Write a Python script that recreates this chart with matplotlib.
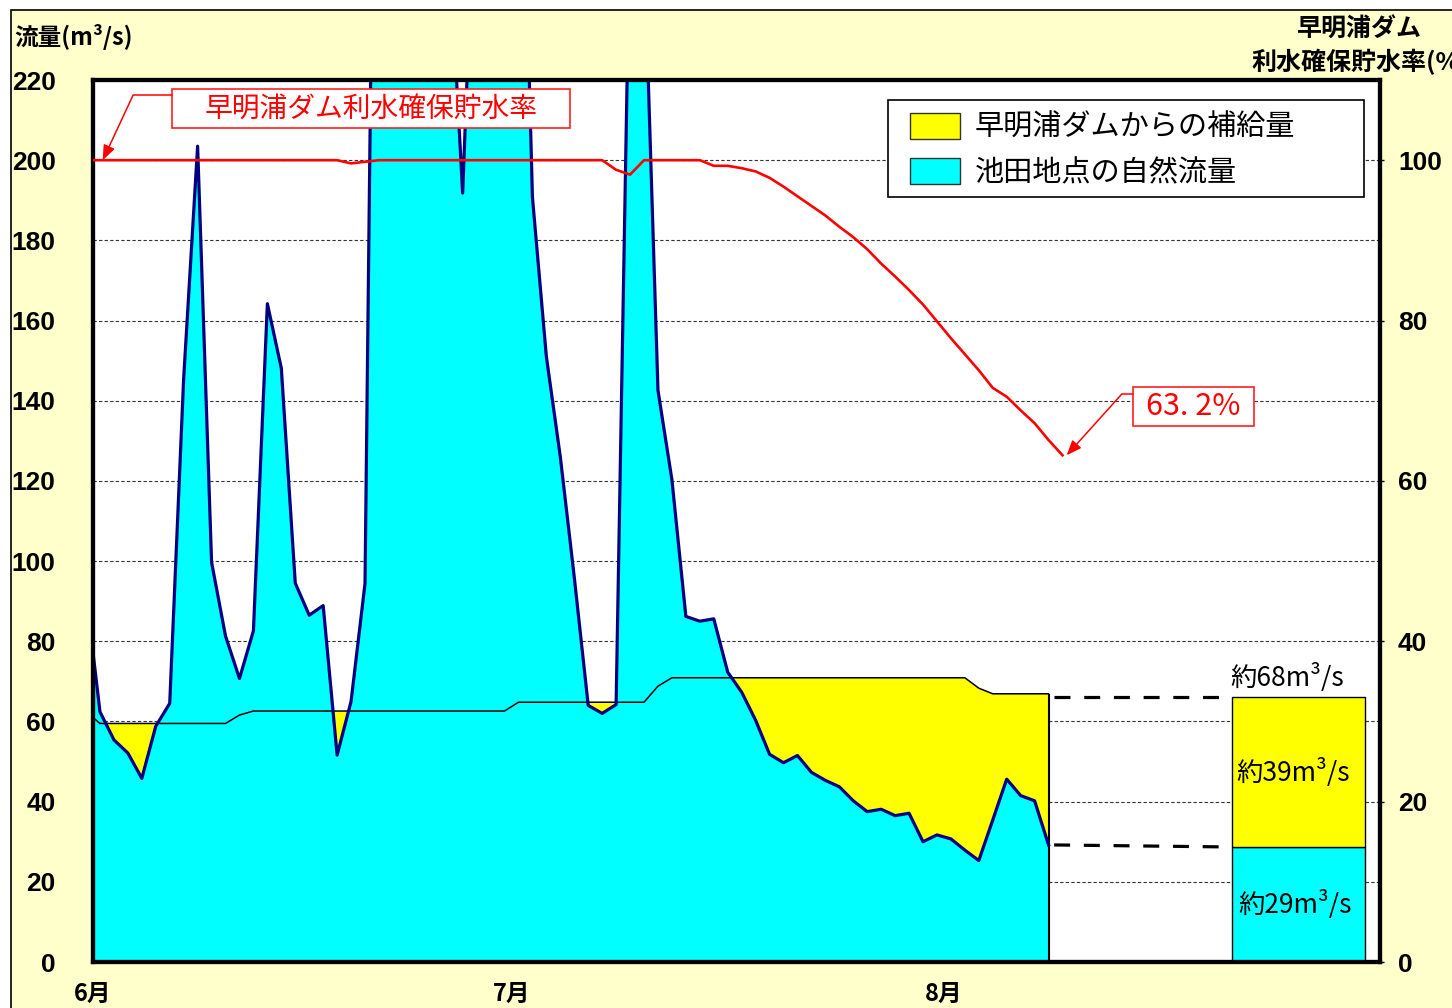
import numpy as np
import matplotlib
matplotlib.use('Agg')
import matplotlib.pyplot as plt
from matplotlib.patches import Rectangle, Patch

plt.rcParams['font.family'] = ['Noto Sans CJK JP', 'DejaVu Sans']

# daily values 5/31 .. 8/8 (池田地点 自然流量, m3/s)
natural_flow = [92.0, 62.4, 55.4, 52.1, 45.8, 58.8, 64.5, 145.6, 203.5, 99.7, 81.3,
                70.7, 82.6, 164.2, 148.1, 94.5, 86.5, 88.9, 51.6, 65.0, 94.4,
                405, 380, 350, 320, 290, 256, 191.8, 283, 300, 310,
                322, 190.8, 151.0, 126.0, 96.0, 64.0, 62.0, 64.2, 262, 254,
                142.6, 120.3, 86.2, 85.0, 85.6, 72.3, 67.3, 60.3, 51.8, 49.7,
                51.5, 47.3, 45.3, 43.7, 40.2, 37.5, 38.1, 36.5, 37.1, 30.0,
                31.7, 30.7, 27.9, 25.3, 35.4, 45.6, 41.5, 40.2, 29.2]

# natural flow + supply from the dam (m3/s)
total_flow = [62.5, 59.5, 59.5, 59.5, 59.5, 59.5, 59.5, 59.5, 59.5, 59.5, 59.5,
              61.6, 62.6, 62.6, 62.6, 62.6, 62.6, 62.6, 62.6, 62.6, 62.6,
              62.6, 62.6, 62.6, 62.6, 62.6, 62.6, 62.6, 62.6, 62.6, 62.6,
              64.8, 64.8, 64.8, 64.8, 64.8, 64.8, 64.8, 64.8, 64.8, 64.8,
              68.8, 70.9, 70.9, 70.9, 70.9, 70.9, 70.9, 70.9, 70.9, 70.9,
              70.9, 70.9, 70.9, 70.9, 70.9, 70.9, 70.9, 70.9, 70.9, 70.9,
              70.9, 70.9, 70.9, 68.3, 66.9, 66.9, 66.9, 66.9, 66.9]

# 早明浦ダム利水確保貯水率 (%) 5/31 .. 8/9
storage_rate = [100, 100, 100, 100, 100, 100, 100, 100, 100, 100, 100,
                100, 100, 100, 100, 100, 100, 100, 100, 99.6, 99.8,
                100, 100, 100, 100, 100, 100, 100, 100, 100, 100,
                100, 100, 100, 100, 100, 100, 100, 98.8, 98.2, 100,
                100, 100, 100, 100, 99.3, 99.3, 99.0, 98.6, 97.8, 96.7,
                95.5, 94.3, 93.1, 91.7, 90.4, 88.9, 87.1, 85.5, 83.8, 82.0,
                79.9, 77.8, 75.8, 73.8, 71.6, 70.5, 68.8, 67.2, 65.1, 63.2]

month_ticks = [0, 30, 61]
month_labels = ['6月', '7月', '8月']

bar_natural = 28.7
bar_supply = 37.3
bar_labels = ['約68m³/s', '約39m³/s', '約29m³/s']

day_pos = np.arange(len(natural_flow)) - 0.5
rate_pos = np.arange(len(storage_rate)) - 0.5

tick_font = ['Liberation Sans', 'DejaVu Sans']

fig = plt.figure(figsize=(14.52, 10.08), dpi=100, facecolor='white')
fig.add_artist(Rectangle((11 / 1452, -0.01), 1.0, 1 - 10 / 1008 + 0.01,
                         transform=fig.transFigure, facecolor='#FFFFCC',
                         edgecolor='black', lw=1.2, zorder=-1))

ax = fig.add_axes([0.06405, 0.04563, 0.88636, 0.875])
ax2 = ax.twinx()

ax.fill_between(day_pos, 0, total_flow, color='#FFFF00', lw=0, zorder=1)
ax.fill_between(day_pos, 0, natural_flow, color='#00FFFF', lw=0, zorder=1.1)
ax.plot(day_pos, total_flow, color='black', lw=1.1, zorder=2)
ax.vlines(day_pos[-1], 0, total_flow[-1], color='black', lw=1.5, zorder=2)
ax.plot(day_pos, natural_flow, color='#000080', lw=2.3, zorder=3)

# comparison bar on the right
bar_x = 86.4
bar_w = 9.55
ax.bar(bar_x, bar_natural, width=bar_w, color='#00FFFF', edgecolor='black', lw=1, zorder=2)
ax.bar(bar_x, bar_supply, bottom=bar_natural, width=bar_w, color='#FFFF00',
       edgecolor='black', lw=1, zorder=2)
ax.plot([day_pos[-1] + 0.4, bar_x - bar_w / 2 - 0.3], [bar_natural + bar_supply] * 2,
        color='black', lw=2.3, dashes=(5, 4.3), zorder=3)
ax.plot([day_pos[-1] + 0.4, bar_x - bar_w / 2 - 0.3], [natural_flow[-1], bar_natural],
        color='black', lw=2.3, dashes=(5, 4.3), zorder=3)
ax.text(bar_x - 0.8, bar_natural + bar_supply + 5, bar_labels[0], ha='center', va='center',
        fontsize=19, zorder=4)
ax.text(bar_x - 0.4, bar_natural + bar_supply / 2, bar_labels[1], ha='center', va='center',
        fontsize=19, zorder=4)
ax.text(bar_x - 0.2, bar_natural / 2, bar_labels[2], ha='center', va='center',
        fontsize=19, zorder=4)

ax.set_xlim(0, 92.26)
ax.set_ylim(0, 220)
ax.set_yticks(np.arange(0, 221, 20))
ax.yaxis.grid(True, color='#333333', lw=0.8, dashes=(3, 2))
ax.set_axisbelow(True)
ax.set_xticks(month_ticks)
ax.set_xticklabels(month_labels, fontsize=17, fontweight='bold')
ax.tick_params(axis='x', length=0, pad=14)
ax.tick_params(axis='y', length=0, pad=27)
for lab in ax.get_yticklabels():
    lab.set_family(tick_font)
    lab.set_fontsize(19)
    lab.set_fontweight('bold')

ax2.plot(rate_pos, storage_rate, color='#FF0000', lw=1.9, zorder=3)
ax2.set_ylim(0, 110)
ax2.set_yticks(np.arange(0, 101, 20))
ax2.tick_params(axis='y', direction='out', length=3, width=1, pad=10)
for lab in ax2.get_yticklabels():
    lab.set_family(tick_font)
    lab.set_fontsize(19)
    lab.set_fontweight('bold')

for a in (ax, ax2):
    for sp in a.spines.values():
        sp.set_linewidth(3)
        sp.set_color('black')

# callout boxes
ax2.add_patch(Rectangle((0.0614, 0.9456), 0.3092, 0.0442, transform=ax2.transAxes,
                        facecolor='white', edgecolor='#FF2020', lw=1.2, zorder=5))
ax2.text(0.216, 0.9677, '早明浦ダム利水確保貯水率', transform=ax2.transAxes, color='#FF0000',
         fontsize=20, ha='center', va='center', zorder=6)
ax2.annotate('', xy=(0.7, storage_rate[1]), xytext=(0.0614, 0.983), textcoords='axes fraction',
             arrowprops=dict(arrowstyle='-|>,head_length=0.5,head_width=0.2', color='#FF0000',
                             lw=1.1, mutation_scale=18, shrinkA=0, shrinkB=0,
                             connectionstyle='angle,angleA=180,angleB=65,rad=0'), zorder=6)

ax2.add_patch(Rectangle((0.8081, 0.6077), 0.094, 0.0442, transform=ax2.transAxes,
                        facecolor='white', edgecolor='#FF2020', lw=1.2, zorder=5))
ax2.text(0.8551, 0.6298, '63. 2%', transform=ax2.transAxes, color='#FF0000',
         fontsize=22, ha='center', va='center', zorder=6)
ax2.annotate('', xy=(rate_pos[-1] + 0.3, storage_rate[-1]), xytext=(0.8081, 0.644),
             textcoords='axes fraction',
             arrowprops=dict(arrowstyle='-|>,head_length=0.5,head_width=0.2', color='#FF0000',
                             lw=1.1, mutation_scale=18, shrinkA=0, shrinkB=0,
                             connectionstyle='angle,angleA=180,angleB=48,rad=0'), zorder=6)

# legend: frame drawn as its own box, entries placed inside it
ax2.add_patch(Rectangle((0.6177, 0.8673), 0.3699, 0.11, transform=ax2.transAxes,
                        facecolor='white', edgecolor='black', lw=1.2, zorder=7))
leg = ax2.legend(handles=[Patch(facecolor='#FFFF00', edgecolor='#333333', lw=1,
                                label='早明浦ダムからの補給量'),
                          Patch(facecolor='#00FFFF', edgecolor='#333333', lw=1,
                                label='池田地点の自然流量')],
                 loc='upper left', bbox_to_anchor=(0.6348, 0.9626), borderaxespad=0,
                 borderpad=0, fontsize=21, handlelength=1.71, handleheight=1.0,
                 handletextpad=0.5, labelspacing=0.52, frameon=False)
leg.set_zorder(8)

fig.text(14 / 1452, 1 - 37 / 1008, '流量(m³/s)', fontsize=17, fontweight='bold',
         ha='left', va='center')
fig.text(1359 / 1452, 1 - 30 / 1008, '早明浦ダム', fontsize=18, fontweight='bold',
         ha='center', va='center')
fig.text(1251 / 1452, 1 - 62 / 1008, '利水確保貯水率(%)', fontsize=18, fontweight='bold',
         ha='left', va='center')

fig.savefig('out.png', dpi=100)
